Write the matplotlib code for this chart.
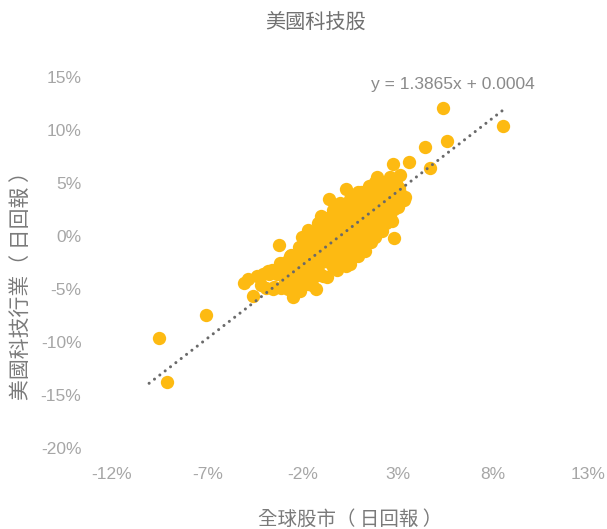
import matplotlib
matplotlib.use("Agg")
import matplotlib.pyplot as plt
import numpy as np
from matplotlib.ticker import FixedLocator, FuncFormatter

# ---- data (percent daily returns) ----
global_ret = [
    # cluster, lower-left part
    -4.40, -4.20, -4.05, -3.90, -3.75, -3.60, -3.50, -3.35, -3.20, -3.10,
    -2.95, -2.85, -2.75, -2.65, -2.55, -2.45, -2.40,
    # cluster, middle
    -2.30, -2.30, -2.20, -2.20, -2.10, -2.10, -2.10, -2.00, -2.00,
    -1.90, -1.90, -1.80, -1.80, -1.70, -1.70, -1.70, -1.60, -1.60,
    -1.50, -1.50, -1.40, -1.40, -1.30, -1.30, -1.30, -1.20, -1.20,
    -1.10, -1.10, -1.00, -1.00, -0.90, -0.90, -0.90, -0.80, -0.80,
    -0.70, -0.70, -0.70, -0.60, -0.60, -0.60, -0.50, -0.50,
    -0.40, -0.40, -0.40, -0.30, -0.30, -0.20, -0.20, -0.20, -0.10, -0.10,
    0.00, 0.00, 0.00, 0.10, 0.10, 0.20, 0.20, 0.30, 0.30, 0.30,
    0.40, 0.40, 0.50, 0.50, 0.50, 0.60, 0.60, 0.70, 0.70, 0.70,
    0.80, 0.80, 0.90, 0.90, 0.90, 1.00, 1.00, 1.10, 1.10, 1.10,
    1.20, 1.20, 1.30, 1.30, 1.30, 1.40, 1.40, 1.50, 1.50, 1.50,
    # cluster, upper-right part
    1.60, 1.60, 1.70, 1.70, 1.80, 1.80, 1.80, 1.90, 1.90,
    2.00, 2.00, 2.00, 2.10, 2.10, 2.20, 2.20, 2.30, 2.30, 2.40, 2.40,
    2.50, 2.50, 2.60, 2.60, 2.60, 2.70, 2.70, 2.80, 2.80, 2.90, 2.90,
    3.00, 3.00, 3.20, 3.40,
    # cluster, core fill
    -3.00, -2.90, -2.80, -2.70, -2.60, -2.50, -2.35, -2.25, -2.15, -2.05,
    -1.95, -1.85, -1.75, -1.65, -1.55, -1.45, -1.35, -1.25, -1.15, -1.05,
    -0.95, -0.85, -0.75, -0.65, -0.55, -0.45, -0.35, -0.25, -0.15, -0.05,
    0.05, 0.15, 0.25, 0.35, 0.45, 0.55, 0.65, 0.75, 0.85, 0.95,
    1.05, 1.15, 1.25, 1.35, 1.45, 1.55, 1.65, 1.75, 1.85, 1.95,
    2.05, 2.15, 2.25, 2.35, 2.45, 2.55, 2.65, 2.75, 2.85, 3.05, 3.15,
    # outliers
    5.39, 8.54, 4.43, 5.62, 4.69, 2.77, 3.61, 3.12, 2.82, 3.33, 2.68, 1.90,
    -3.23, -3.80, -4.85, -5.06, -4.58, -3.53, -2.48, -7.07, -9.52, -9.13,
]
tech_ret = [
    -3.76, -4.58, -3.58, -4.87, -3.56, -3.20, -4.81, -3.60, -2.50, -4.86,
    -3.45, -2.41, -4.97, -1.90, -3.30, -3.76, -2.10,
    -4.95, -2.25, -1.01, -3.51, -5.17, -1.67, -2.67, -0.13, -3.73,
    -1.99, -4.49, -0.76, -2.76, -4.52, 0.58, -1.42, -3.38, -0.68,
    -1.74, -4.64, 0.40, -2.70, -3.36, -0.76, -4.96, 1.18, -1.42,
    -3.59, 0.11, -1.85, 1.85, -3.81, -0.41, 0.89, -2.37, 0.33,
    1.67, -1.13, -3.83, 0.11, -2.49, 3.51, 1.35, -1.45,
    -2.91, 2.49, -0.11, 1.12, -1.78, -3.24, 2.16, -0.24, 0.90, -2.10,
    3.14, -0.86, 1.94, -2.52, 0.68, 2.52, -1.28, 0.16, 4.46, -2.84,
    1.89, -1.71, 3.53, 0.13, -2.67, 1.57, -1.03, 3.21, -1.89, 1.01,
    -0.05, 2.65, 4.19, -1.91, 1.69, -0.17, 3.23, 1.17, -1.43, 4.17,
    2.60, -0.50, 3.84, 0.84, -1.46, 2.28, -0.52, 4.72, 0.62, 3.32,
    1.96, -0.54, 4.20, 1.00, 2.94, -0.06, 5.14, 1.67, 4.17,
    5.11, 0.61, 2.81, 2.15, 3.95, 0.49, 3.39, 4.93, 1.93, 3.17, 1.27,
    4.71, 2.61, 5.54, 1.94, 3.94, 3.18, 4.78, 2.52, 4.32, 4.96, 3.16,
    2.70, 4.40, 3.68, 3.65,
    -3.22, -4.18, -2.74, -3.40, -1.76, -4.33, -2.62, -4.18, -1.44, -3.20,
    -1.66, -3.72, -2.19, -0.35, -2.71, -0.87, -3.73, -1.69, 0.25, -2.52,
    -0.58, -1.44, 0.60, -1.86, -0.32, -2.58, 1.75, -1.01, 0.73, -1.43,
    0.31, 1.65, -0.51, 2.53, -0.84, 1.40, 0.54, 2.38, -0.98, 1.46,
    2.60, 0.43, 2.27, 0.11, 3.45, 1.39, 3.03, 0.57, 3.91, 2.34,
    3.78, 1.42, 3.56, 4.50, 2.84, 4.08, 2.71, 4.45, 3.69, 4.57, 4.01,
    12.05, 10.41, 8.42, 8.93, 6.42, 6.79, 6.95, 5.75, -0.22, 3.40, 1.44, 5.54,
    -0.82, -3.27, -4.06, -4.46, -5.63, -5.00, -5.78, -7.42, -9.65, -13.75,
]

slope = 1.3865
intercept = 0.0004          # in return units (fraction)
trend_x_range = [-10.05, 8.70]

x_ticks = [-12, -7, -2, 3, 8, 13]
y_ticks = [-20, -15, -10, -5, 0, 5, 10, 15]

title = "美國科技股"
x_label = "全球股市（ 日回報 ）"
y_label = "美國科技行業（ 日回報 ）"
eq_label = "y = 1.3865x + 0.0004"

# ---- style ----
W, H = 607, 529
fig = plt.figure(figsize=(W / 100, H / 100), dpi=100)
ax = fig.add_axes([112 / W, 1 - 448 / H, 476 / W, 371 / H])

point_color = "#FDBA12"
tick_color = "#a6a6a6"
label_color = "#7a7a7a"
cjk = ["Noto Sans CJK TC", "DejaVu Sans"]
num_font = ["Liberation Sans", "DejaVu Sans"]

ax.scatter(global_ret, tech_ret, s=92, color=point_color, linewidths=0, zorder=2)

tx = np.array(trend_x_range)
ty = slope * tx + intercept * 100
ax.plot(tx, ty, color="#6a6a6a", lw=2.2, linestyle=(0, (0.01, 2.2)),
        dash_capstyle="round", zorder=3)

ax.set_xlim(x_ticks[0], x_ticks[-1])
ax.set_ylim(y_ticks[0], y_ticks[-1])
ax.xaxis.set_major_locator(FixedLocator(x_ticks))
ax.yaxis.set_major_locator(FixedLocator(y_ticks))
ax.xaxis.set_major_formatter(FuncFormatter(lambda v, p: f"{v:.0f}%"))
ax.yaxis.set_major_formatter(FuncFormatter(lambda v, p: f"{v:.0f}%"))
ax.tick_params(axis="both", length=0, colors=tick_color, labelsize=12.5)
ax.tick_params(axis="x", pad=14)
ax.tick_params(axis="y", pad=22)
for lab in ax.get_xticklabels() + ax.get_yticklabels():
    lab.set_family(num_font)
for s in ax.spines.values():
    s.set_visible(False)
ax.set_facecolor("white")

fig.text(453 / W, 1 - 84 / H, eq_label, ha="center", va="center",
         fontsize=12.5, color="#8a8a8a", family=num_font)

fig.text(315 / W, 1 - 22 / H, title, ha="center", va="center",
         fontsize=14.5, color="#707070", family=cjk, fontweight="light")
fig.text(350 / W, 1 - 519 / H, x_label, ha="center", va="center",
         fontsize=14, color=label_color, family=cjk, fontweight="light")
fig.text(21 / W, 1 - 281 / H, y_label, ha="center", va="center", rotation=90,
         fontsize=15, color=label_color, family=cjk, fontweight="light")

fig.savefig("out.png", dpi=100, facecolor="white")
